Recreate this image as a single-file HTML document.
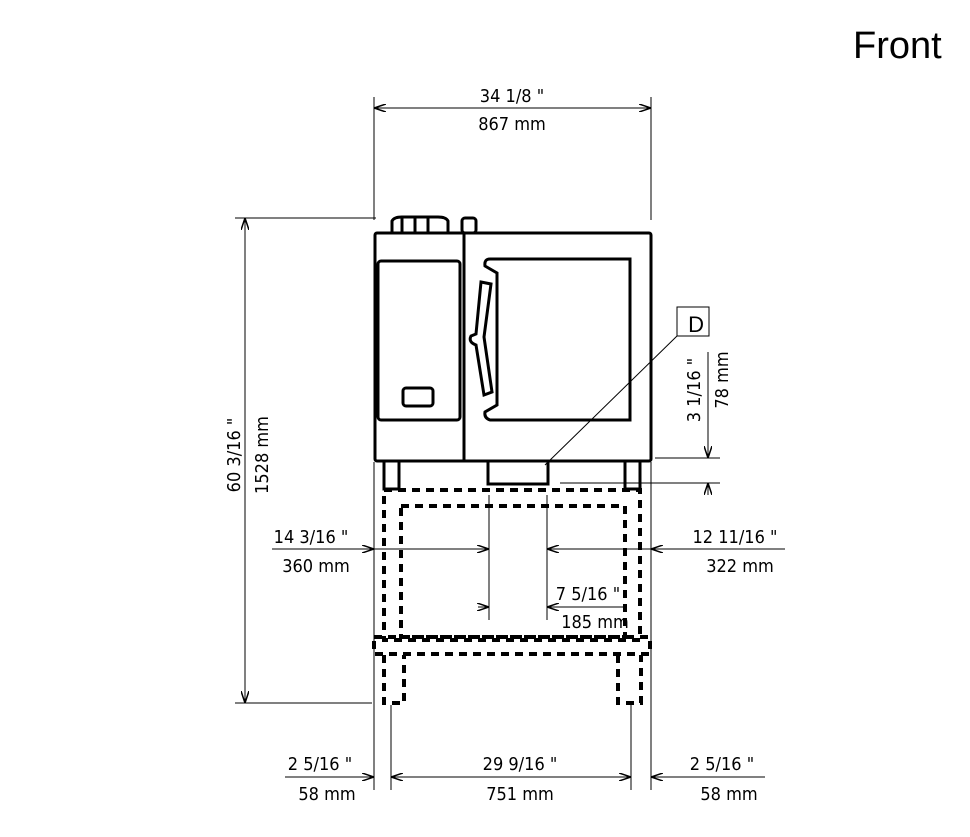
<!DOCTYPE html>
<html><head><style>
body{margin:0;background:#fff}
svg{display:block}
text{font-family:"Liberation Sans",sans-serif;font-size:16px;fill:#000}
.t{font-family:"DejaVu Sans Condensed","Liberation Sans",sans-serif;font-size:18px}
</style></head><body>
<svg width="970" height="837" viewBox="0 0 970 837" xmlns="http://www.w3.org/2000/svg">
<defs>
<marker id="a" viewBox="0 0 12 8" refX="12" refY="4" markerWidth="12" markerHeight="8" orient="auto-start-reverse" markerUnits="userSpaceOnUse"><path d="M0,0 L12,4 L0,8" fill="none" stroke="#000" stroke-width="1.5"/></marker>
</defs>
<text x="853" y="58" style="font-size:38px">Front</text>
<g stroke="#000" fill="none" stroke-width="1">
<line x1="374" y1="97" x2="374" y2="220"/><line x1="651" y1="97" x2="651" y2="220"/>
<line x1="374" y1="108" x2="651" y2="108" marker-start="url(#a)" marker-end="url(#a)"/>
<line x1="235" y1="218" x2="376" y2="218"/><line x1="235" y1="703" x2="372" y2="703"/>
<line x1="245" y1="218" x2="245" y2="703" marker-start="url(#a)" marker-end="url(#a)"/>
<line x1="374" y1="462" x2="374" y2="790"/><line x1="651" y1="462" x2="651" y2="790"/>
<line x1="391" y1="705" x2="391" y2="790"/><line x1="631" y1="705" x2="631" y2="790"/>
<line x1="285" y1="777" x2="374" y2="777" marker-end="url(#a)"/>
<line x1="391" y1="777" x2="631" y2="777" marker-start="url(#a)" marker-end="url(#a)"/>
<line x1="651" y1="777" x2="765" y2="777" marker-start="url(#a)"/>
<line x1="272" y1="549" x2="374" y2="549" marker-end="url(#a)"/>
<line x1="374" y1="549" x2="489" y2="549" marker-end="url(#a)"/>
<line x1="547" y1="549" x2="651" y2="549" marker-start="url(#a)"/>
<line x1="651" y1="549" x2="785" y2="549" marker-start="url(#a)"/>
<line x1="489" y1="495" x2="489" y2="620"/><line x1="547" y1="495" x2="547" y2="620"/>
<line x1="478" y1="607" x2="489" y2="607" marker-end="url(#a)"/>
<line x1="547" y1="607" x2="627" y2="607" marker-start="url(#a)"/>
<line x1="655" y1="458" x2="720" y2="458"/><line x1="560" y1="483" x2="720" y2="483"/>
<line x1="708" y1="352" x2="708" y2="458" marker-end="url(#a)"/>
<line x1="708" y1="495" x2="708" y2="483" marker-end="url(#a)"/>
<rect x="677" y="307" width="32" height="29"/>
<line x1="677" y1="336" x2="545" y2="465"/>
</g>
<text x="709" y="332" style="font-size:22px" text-anchor="end" dx="-5">D</text>
<g stroke="#000" fill="none" stroke-width="3">
<path d="M392,233 v-12 q2,-4 10,-4 h36 q8,0 10,4 v12"/>
<path d="M402,217 v16 M415,217 v16 M428,217 v16"/>
<rect x="462" y="218" width="14" height="15" rx="3"/>
<rect x="375" y="233" width="276" height="228" rx="2"/>
<line x1="464" y1="233" x2="464" y2="461"/>
<rect x="378" y="261" width="82" height="159" rx="3"/>
<rect x="403" y="388" width="30" height="18" rx="3"/>
<path d="M490,259 H630 V420 H490 Q484,418 485,412 L497,405 V273 L485,266 Q484,259 490,259Z"/>
<path d="M481,282 L491,284 L484,337 L492,392 L484,395 L476,345 Q468,342 471,336 L476,334Z"/>
<rect x="384" y="461" width="15" height="28"/>
<rect x="625" y="461" width="15" height="28"/>
<rect x="488" y="461" width="60" height="23"/>
</g>
<g stroke="#000" fill="none" stroke-width="4" stroke-dasharray="8,6">
<rect x="384" y="490" width="256" height="150"/>
<rect x="401" y="506" width="224" height="131"/>
<path d="M374,637 H650 V654 H374Z"/>
<path d="M384,655 V703 H404 V655 M618,655 V703 H641 V655"/>
</g>
<g text-anchor="middle">
<text class="t" x="512" y="102">34 1/8 "</text>
<text class="t" x="512" y="130">867 mm</text>
<text class="t" x="311" y="543">14 3/16 "</text>
<text class="t" x="316" y="572">360 mm</text>
<text class="t" x="735" y="543">12 11/16 "</text>
<text class="t" x="740" y="572">322 mm</text>
<text class="t" x="588" y="600">7 5/16 "</text>
<text class="t" x="595" y="628">185 mm</text>
<text class="t" x="320" y="770">2 5/16 "</text>
<text class="t" x="327" y="800">58 mm</text>
<text class="t" x="520" y="770">29 9/16 "</text>
<text class="t" x="520" y="800">751 mm</text>
<text class="t" x="722" y="770">2 5/16 "</text>
<text class="t" x="729" y="800">58 mm</text>
<text class="t" transform="translate(240,455) rotate(-90)">60 3/16 "</text>
<text class="t" transform="translate(268,455) rotate(-90)">1528 mm</text>
<text class="t" transform="translate(700,390) rotate(-90)">3 1/16 "</text>
<text class="t" transform="translate(728,380) rotate(-90)">78 mm</text>
</g>
</svg>
</body></html>
